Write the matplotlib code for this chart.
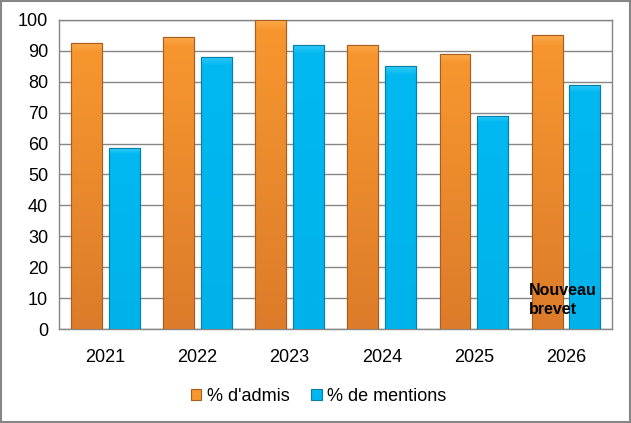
import numpy as np
import matplotlib.pyplot as plt
from matplotlib.colors import LinearSegmentedColormap
from matplotlib.patches import Rectangle

years = ['2021', '2022', '2023', '2024', '2025', '2026']
admis = [92.5, 94.5, 100, 92, 89, 95]
mentions = [58.5, 88, 92, 85, 69, 79]

plt.rcParams['font.family'] = ['Liberation Sans', 'DejaVu Sans']

fig = plt.figure(figsize=(6.31, 4.23), dpi=100)
ax = fig.add_axes([0.094, 0.222, 0.876, 0.731])

x = np.arange(len(years))
w = 0.335
off = 0.205

orange_cm = LinearSegmentedColormap.from_list('o', ['#FCA848', '#F7962F', '#DC7C2A'])
blue_cm = LinearSegmentedColormap.from_list('b', ['#2CC8F8', '#00B8F0', '#00B2EA'])

b1 = ax.bar(x - off, admis, w, color='#F7962F', edgecolor='#A85E1E', linewidth=0.8,
            label="% d'admis", zorder=3)
b2 = ax.bar(x + off, mentions, w, color='#00B8F0', edgecolor='#0A7FA6', linewidth=0.8,
            label='% de mentions', zorder=3)

grad = np.concatenate([np.linspace(0, 0.5, 4), np.linspace(0.5, 1, 96)]).reshape(-1, 1)
for bars, cm in ((b1, orange_cm), (b2, blue_cm)):
    for r in bars:
        x0, y0 = r.get_x(), r.get_y()
        ww, hh = r.get_width(), r.get_height()
        im = ax.imshow(grad, cmap=cm, aspect='auto', origin='upper',
                       extent=(x0, x0 + ww, y0, y0 + hh), zorder=3.5,
                       interpolation='bilinear')
        im.set_clip_path(r)
        ax.add_patch(Rectangle((x0, y0), ww, hh, fill=False, edgecolor=r.get_edgecolor(),
                               linewidth=0.8, zorder=4))

ax.set_xlim(-0.5, len(years) - 0.5)
ax.set_ylim(0, 100)
ax.set_yticks(range(0, 101, 10))
ax.set_xticks(x)
ax.set_xticklabels(years)
ax.tick_params(axis='both', length=0, labelsize=13, colors='black')
ax.tick_params(axis='y', pad=8)
ax.tick_params(axis='x', pad=14)
ax.yaxis.grid(True, color='#868686', linewidth=1, zorder=0)
ax.set_axisbelow(True)
for s in ax.spines.values():
    s.set_color('#868686')
    s.set_linewidth(1)

ax.text(4.6, 9.3, 'Nouveau\nbrevet', fontsize=11.5, fontweight='bold', ha='left',
        va='center', linespacing=1.35, zorder=6)

fig.legend(handles=[b1, b2], loc='center', bbox_to_anchor=(0.505, 0.063), ncol=2,
           frameon=False, fontsize=13, handlelength=0.6, handleheight=0.6,
           handletextpad=0.3, columnspacing=1.2)

fig.patches.append(Rectangle((0.002, 0.003), 0.996, 0.994, transform=fig.transFigure,
                             fill=False, edgecolor='#868686', linewidth=1.5))

fig.savefig('out.png', dpi=100)
